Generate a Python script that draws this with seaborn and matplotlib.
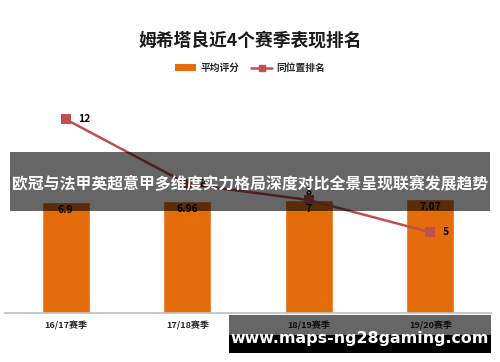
import numpy as np
import pandas as pd
import matplotlib
matplotlib.use("Agg")
import matplotlib.pyplot as plt
import seaborn as sns
from matplotlib.patches import Rectangle
from matplotlib.lines import Line2D
from matplotlib.patches import Patch

seasons = ["16/17赛季", "17/18赛季", "18/19赛季", "19/20赛季"]
scores = [6.9, 6.96, 7.0, 7.07]
ranks = [12, 8, 7, 5]
score_labels = ["6.9", "6.96", "7", "7.07"]
rank_labels = ["12", "8", "8", "5"]
title = "姆希塔良近4个赛季表现排名"
legend_names = ["平均评分", "同位置排名"]
overlay_text = "欧冠与法甲英超意甲多维度实力格局深度对比全景呈现联赛发展趋势"
watermark = "www.maps-ng28gaming.com"

sns.set_style("white")
plt.rcParams['font.family'] = ['Noto Sans CJK SC', 'DejaVu Sans']

W, H = 500, 362
fig = plt.figure(figsize=(5, 3.62), dpi=100)
ax = fig.add_axes([5 / W, (H - 313) / H, 486 / W, 226 / H])

df = pd.DataFrame({"season": seasons, "score": scores})
sns.barplot(data=df, x="season", y="score", color="#E46C0A", saturation=1,
            width=0.395, ax=ax)
xs = np.arange(len(seasons))
sns.lineplot(x=xs, y=ranks, color="#C0504D", linewidth=1.8, marker="s",
             markersize=7, markeredgewidth=0, ax=ax)

ax.set_ylim(0, 14)
ax.set_xlim(-0.5, 3.5)
ax.set_xlabel("")
ax.set_ylabel("")
ax.set_yticks([])
for s in ["top", "left", "right"]:
    ax.spines[s].set_visible(False)
ax.spines["bottom"].set_color("#BFBFBF")
ax.spines["bottom"].set_linewidth(1.2)
ax.tick_params(axis="x", length=0, pad=6)
for lab in ax.get_xticklabels():
    lab.set_fontsize(6.5)
    lab.set_fontweight("bold")

for i, (v, t) in enumerate(zip(scores, score_labels)):
    ax.text(i, v - 0.22, t, ha="center", va="top", fontsize=7.5, fontweight="bold",
            color="black")
# rank labels
offs = [(0.1, 0), (0.1, 0), (0, 0.5), (0.1, 0)]
for i, (v, t) in enumerate(zip(ranks, rank_labels)):
    dx, dy = offs[i]
    ax.text(i + dx, v + dy, t, ha="left" if dx else "center", va="center",
            fontsize=7.5, fontweight="bold", color="black")

fig.text(0.5, (H - 42) / H, title, ha="center", va="center", fontsize=12.8,
         fontweight="bold", color="#1a1a1a")

handles = [Patch(facecolor="#E46C0A", edgecolor="none"),
           Line2D([0], [0], color="#C0504D", linewidth=1.8, marker="s", markersize=4)]
fig.legend(handles, legend_names, loc="center", bbox_to_anchor=(0.5, (H - 68) / H),
           ncol=2, frameon=False, prop={"size": 7, "weight": "bold"},
           handlelength=2.2, handleheight=0.6, columnspacing=1.2, handletextpad=0.4)

# overlay band
fig.patches.append(Rectangle((10 / W, (H - 211) / H), 480 / W, 59 / H,
                             transform=fig.transFigure, facecolor="black",
                             alpha=0.6, edgecolor="none", zorder=5))
fig.text(0.5, (H - 184) / H, overlay_text, ha="center", va="center", fontsize=11.4,
         fontweight="bold", color="white", zorder=6)

# watermark box
fig.patches.append(Rectangle((229 / W, (H - 335) / H), 262 / W, 20 / H,
                             transform=fig.transFigure, facecolor="black",
                             alpha=0.6, edgecolor="none", zorder=5))
fig.patches.append(Rectangle((229 / W, (H - 353) / H), 262 / W, 18 / H,
                             transform=fig.transFigure, facecolor="black",
                             edgecolor="none", zorder=5))
fig.text(360 / W, (H - 338) / H, watermark, ha="center", va="center", fontsize=11.4,
         fontweight="bold", color="white", family=["DejaVu Sans"], zorder=6)

fig.savefig("out.png", dpi=100)
